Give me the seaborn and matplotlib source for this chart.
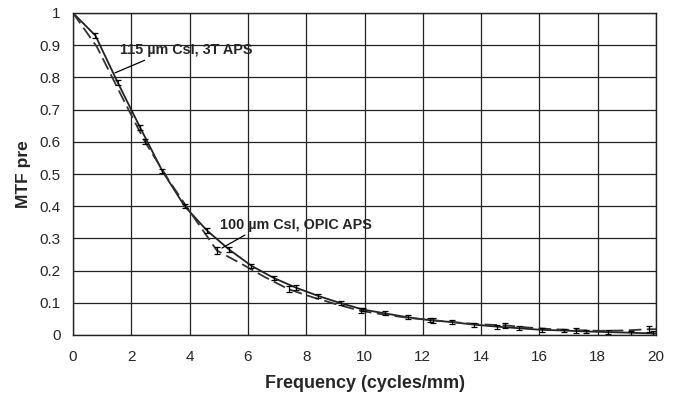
import numpy as np
import pandas as pd
import matplotlib
matplotlib.use("Agg")
import matplotlib.pyplot as plt
import seaborn as sns

# --- data ---
freq_3t = [0.0, 0.77, 1.53, 2.30, 3.06, 3.83, 4.59, 5.36, 6.12, 6.89, 7.65, 8.42, 9.18,
           9.95, 10.71, 11.48, 12.24, 13.01, 13.77, 14.54, 15.30, 16.07, 16.83, 17.60,
           18.36, 19.13, 19.89, 20.0]
mtf_3t = [1.0, 0.93, 0.785, 0.645, 0.51, 0.40, 0.325, 0.265, 0.215, 0.177, 0.147, 0.121,
          0.099, 0.079, 0.067, 0.055, 0.046, 0.040, 0.032, 0.026, 0.021, 0.016, 0.014,
          0.011, 0.009, 0.007, 0.005, 0.005]
err_3t = [0.0, 0.008, 0.008, 0.008, 0.007, 0.007, 0.007, 0.007, 0.006, 0.006, 0.007, 0.006,
          0.006, 0.006, 0.006, 0.006, 0.006, 0.006, 0.006, 0.006, 0.006, 0.006, 0.006,
          0.006, 0.006, 0.006, 0.006, 0.0]

freq_opic = [0.0, 0.82, 1.65, 2.47, 3.29, 4.11, 4.94, 5.76, 6.58, 7.40, 8.23, 9.05, 9.87,
             10.70, 11.52, 12.34, 13.16, 13.99, 14.81, 15.63, 16.45, 17.27, 18.10, 18.92,
             19.74, 20.0]
mtf_opic = [1.0, 0.895, 0.745, 0.60, 0.48, 0.37, 0.262, 0.222, 0.18, 0.142, 0.117, 0.095,
            0.075, 0.063, 0.053, 0.046, 0.039, 0.033, 0.030, 0.023, 0.018, 0.015, 0.013,
            0.014, 0.018, 0.018]
err_opic = [0, 0, 0, 0.008, 0, 0, 0.010, 0, 0, 0.010, 0, 0, 0.008, 0, 0, 0.008, 0, 0,
            0.008, 0, 0, 0.008, 0, 0, 0.010, 0]

label_3t = "115 µm CsI, 3T APS"
label_opic = "100 µm CsI, OPIC APS"

x_ticks = [0, 2, 4, 6, 8, 10, 12, 14, 16, 18, 20]
y_ticks = [0, 0.1, 0.2, 0.3, 0.4, 0.5, 0.6, 0.7, 0.8, 0.9, 1]

df = pd.concat([
    pd.DataFrame({"freq": freq_3t, "mtf": mtf_3t, "err": err_3t, "det": label_3t}),
    pd.DataFrame({"freq": freq_opic, "mtf": mtf_opic, "err": err_opic, "det": label_opic}),
])

sns.set_theme(style="white")
plt.rcParams["font.family"] = ["Liberation Sans", "DejaVu Sans"]

fig = plt.figure(figsize=(6.82, 4.0), dpi=100)
ax = fig.add_axes([0.107, 0.1625, 0.855, 0.805])

sns.lineplot(data=df, x="freq", y="mtf", hue="det", style="det",
             palette={label_3t: "#222222", label_opic: "#333333"},
             dashes={label_3t: "", label_opic: (7, 3)},
             linewidth=1.3, legend=False, ax=ax, sort=False)

for det in (label_3t, label_opic):
    sub = df[(df["det"] == det) & (df["err"] > 0)]
    ax.errorbar(sub["freq"], sub["mtf"], yerr=sub["err"], fmt="none",
                ecolor="black", elinewidth=0.9, capsize=2.5, capthick=0.9)

ax.set_xlim(0, 20)
ax.set_ylim(0, 1)
ax.set_xticks(x_ticks)
ax.set_yticks(y_ticks)
ax.set_xticklabels([f"{v:g}" for v in x_ticks], fontsize=11)
ax.set_yticklabels([f"{v:g}" for v in y_ticks], fontsize=11)
ax.tick_params(axis="x", length=0, pad=11)
ax.tick_params(axis="y", length=0, pad=9)
ax.grid(True, color="#222222", linewidth=0.9)
for s in ax.spines.values():
    s.set_color("#222222")
    s.set_linewidth(1.0)

ax.set_xlabel("Frequency (cycles/mm)", fontsize=13, fontweight="bold", labelpad=8)
ax.set_ylabel("MTF pre", fontsize=12.5, fontweight="bold", labelpad=6)

ax.annotate(label_3t, xy=(1.44, 0.814), xytext=(1.63, 0.885),
            fontsize=10.4, fontweight="bold", va="center", ha="left",
            arrowprops=dict(arrowstyle="-", color="black", lw=0.9,
                            shrinkA=0, shrinkB=0, relpos=(0.24, 0.0)))
ax.annotate(label_opic, xy=(5.11, 0.27), xytext=(5.05, 0.342),
            fontsize=10.4, fontweight="bold", va="center", ha="left",
            arrowprops=dict(arrowstyle="-", color="black", lw=0.9,
                            shrinkA=0, shrinkB=0, relpos=(0.2, 0.0)))

fig.savefig("out.png", dpi=100)
